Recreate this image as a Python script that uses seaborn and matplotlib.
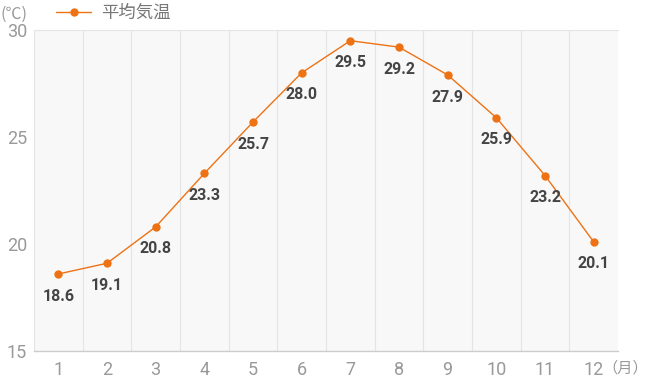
import matplotlib
matplotlib.use("Agg")
import matplotlib.pyplot as plt
import seaborn as sns
import pandas as pd

# --- DATA ---
months = [1, 2, 3, 4, 5, 6, 7, 8, 9, 10, 11, 12]
temps = [18.6, 19.1, 20.8, 23.3, 25.7, 28.0, 29.5, 29.2, 27.9, 25.9, 23.2, 20.1]
series_name = "平均気温"
y_ticks = [15, 20, 25, 30]

df = pd.DataFrame({"month": months, "temp": temps})

sns.set_theme(style="white")
plt.rcParams["font.family"] = ["Roboto", "Noto Sans CJK JP", "DejaVu Sans"]

orange = "#ee7214"
tick_gray = "#999999"

fig = plt.figure(figsize=(6.5, 3.8), dpi=100)
ax = fig.add_axes([0.0523, 0.0763, 0.8985, 0.8447])
ax.set_facecolor("#f8f8f8")

sns.lineplot(data=df, x="month", y="temp", ax=ax, color=orange, linewidth=1,
             marker="o", markersize=6, markeredgewidth=0, label=series_name)

for m, t in zip(months, temps):
    ax.annotate(f"{t:.1f}", (m, t), xytext=(0, -10.5), textcoords="offset points",
                ha="center", va="top", fontsize=11.5, fontweight="bold", color="#444444")

ax.set_xlim(0.5, 12.5)
ax.set_ylim(15, 30)
ax.set_xticks(months)
ax.set_yticks(y_ticks)
ax.set_xticks([m + 0.5 for m in months[:-1]], minor=True)
ax.grid(False)
ax.grid(True, which="minor", axis="x", color="#e4e4e4", linewidth=0.8)
ax.tick_params(axis="both", which="both", length=0, colors=tick_gray, labelsize=13)
ax.tick_params(axis="x", pad=7)
ax.tick_params(axis="y", pad=5)
ax.set_xlabel("")
ax.set_ylabel("")

for side in ["top", "left", "right"]:
    ax.spines[side].set_color("#e4e4e4")
    ax.spines[side].set_linewidth(0.8)
ax.spines["right"].set_visible(False)
ax.spines["bottom"].set_color("#cccccc")
ax.spines["bottom"].set_linewidth(1)

fig.text(0.0, 0.962, "(℃)", fontsize=11.5, color=tick_gray, ha="left", va="center",
         family=["Noto Sans CJK JP", "DejaVu Sans"])
fig.text(0.997, 0.032, "（月）", fontsize=11, color=tick_gray, ha="right", va="center",
         family=["Noto Sans CJK JP", "DejaVu Sans"])

leg = ax.legend(loc="lower left", bbox_to_anchor=(0.025, 1.0), frameon=False,
                prop={"family": ["Noto Sans CJK JP", "DejaVu Sans"], "size": 12.5},
                handlelength=2.0, handletextpad=0.6, borderaxespad=0.05)
for txt in leg.get_texts():
    txt.set_color("#777777")

fig.savefig("out.png", dpi=100)
